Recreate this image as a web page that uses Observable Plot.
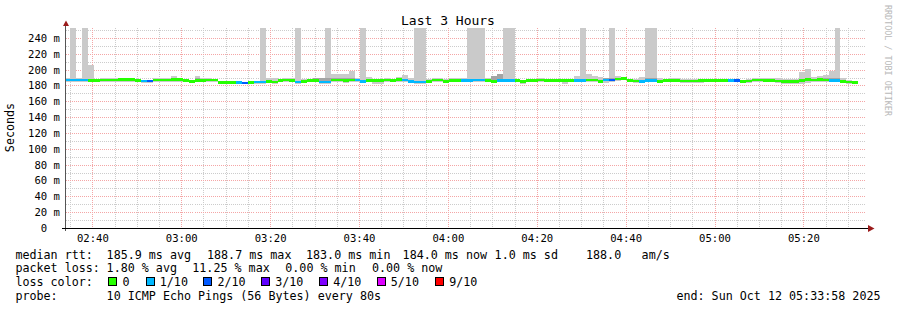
<!DOCTYPE html>
<html>
<head>
<meta charset="utf-8">
<script src="https://cdn.jsdelivr.net/npm/d3@7"></script>
<script src="https://cdn.jsdelivr.net/npm/@observablehq/plot@0.6"></script>
<style>
  html, body { margin: 0; padding: 0; background: #ffffff; }
  #chart { width: 897px; height: 310px; overflow: hidden; }
</style>
</head>
<body>
<div id="chart"></div>
<script>
// ---------------- data ----------------
const day = "2025-10-12";
const endTime = "05:33:58";
const spanHours = 3;
const firstBin = "02:33:40";
const stepSec = 80;

const title = "Last 3 Hours";
const yLabel = "Seconds";
const timeTicks = ["02:40", "03:00", "03:20", "03:40", "04:00", "04:20", "04:40", "05:00", "05:20"];
const yTicks = [0, 20, 40, 60, 80, 100, 120, 140, 160, 180, 200, 220, 240];
const yMax = 252.6;

const lossLevels = [0, 1, 2, 3, 4, 5, 9];
const lossLabels = ["0", "1/10", "2/10", "3/10", "4/10", "5/10", "9/10"];
const lossColors = ["#26ff00", "#00b8ff", "#0059ff", "#5e00ff", "#7e00ff", "#dd00ff", "#ff0000"];

// median rtt per 80 s bin (ms)
const median = [
  186.7,186.7,186.7,186.7,186.1,186.3,186.9,186.9,186.9,187.3,
  187.3,187.3,186.1,185.6,185.6,186.9,186.9,186.9,187.7,187.7,
  186.1,185.2,186.5,186.5,186.9,186.9,184.0,184.0,184.0,184.0,
  183.1,184.0,184.4,184.4,184.8,184.4,186.1,186.9,186.1,184.4,
  184.8,186.1,186.1,184.4,184.4,186.9,186.9,186.5,186.9,186.9,
  185.2,186.5,186.5,186.5,186.9,186.1,187.3,186.9,184.8,184.4,
  184.4,184.8,186.9,186.9,184.8,186.1,186.1,186.1,186.1,186.9,
  186.9,186.1,185.2,186.1,186.1,186.1,186.1,184.8,186.1,186.1,
  186.9,186.5,186.5,186.5,186.5,186.5,186.1,186.1,186.9,186.9,
  185.2,186.9,186.9,188.2,188.6,186.1,185.6,185.2,186.1,186.1,
  185.2,186.1,186.1,186.1,185.6,185.6,185.6,186.1,186.1,186.1,
  186.1,186.1,186.5,186.5,185.2,185.6,186.9,186.9,186.5,186.5,
  185.6,184.8,184.8,184.8,186.1,187.3,186.9,187.3,186.9,186.1,
  186.1,185.2,184.4,184.0
];
// lost pings (of 10) per bin
const loss = [
  1,1,1,1,0,0,0,0,0,0,
  0,0,0,1,2,0,0,0,0,0,
  0,0,0,0,0,0,0,0,0,1,
  2,0,1,1,0,0,0,0,0,1,
  0,0,0,1,1,0,0,0,0,1,
  1,0,0,0,0,0,0,1,1,1,
  1,0,0,0,0,0,0,1,1,1,
  1,0,0,1,1,1,0,0,0,0,
  0,0,0,0,0,0,1,1,0,0,
  0,1,2,0,0,0,0,1,1,1,
  0,0,0,0,0,0,0,0,0,0,
  0,0,1,2,0,0,0,0,0,0,
  0,0,0,0,0,0,0,0,0,1,
  1,0,0,0
];
// highest ping per bin (ms); 320 = off the top of the graph
const smokeMax = [
  189.5,320,189.5,320,206,188,189.5,189.5,189.5,189,
  188.5,188.5,187.5,187.5,187,189,189,189,192,189,
  188,187,192.4,189.5,189.5,188,186,186,186,186,
  185,186,186,320,189.5,189,188.6,189,189,320,
  188,188.5,190,189.5,320,194,194,195,198.7,189,
  320,190.5,188,188,189.5,188,190.7,193,189,320,
  320,188,189.5,189.5,188,189.5,189.5,189,320,320,
  320,189.5,191.5,194.9,320,320,188.5,187,188.5,188.5,
  189.5,188.5,188.5,188.5,188.5,188.5,192.3,320,194.5,191.5,
  191,190,320,192.3,190,188.5,188.5,191,320,320,
  189.5,188.5,189,189,188.5,187.6,187.6,187.6,188.3,188.3,
  188.3,188.3,188.5,188,187.5,188.5,189.4,189.4,189,189,
  189,188.5,188.5,188.5,196.6,201.2,191,191.5,193.6,197.8,
  320,189,187,186
];
// lowest ping per bin (ms)
const smokeMin = [
  184.5,184.5,184.5,184.5,184,184,184.5,184.5,184.5,185,
  185,185,184,183.5,183.5,184.5,184.5,184.5,185,185,
  184,183,184,184,184.5,184.5,182.5,181.8,182.5,182.5,
  181.5,182,182.5,182.5,183,182.5,184,184.5,184,182.5,
  183,184,184,182.5,182.5,184.5,184.5,183,184.5,184.5,
  183,184,182,182,184.5,184,185,184.5,183,182.5,
  182.5,183,184.5,184.5,183,184,184,184,184,184.5,
  184.5,184,183,184,184,184,184,182,184,184,
  184.5,184,184,184,182,184,184,184,184.5,184.5,
  183,183,184.5,186,186.5,184,183.5,183,184,184,
  183,184,184,184,183.5,183.5,183.5,183.5,184,184,
  184,184,184,184,183,183.5,184.5,184.5,184,184,
  183.5,182.5,182.5,182.5,182.3,182.7,184.5,185,184.5,184,
  184,183,181.4,182
];
// bins where the inner (darker) smoke rises visibly above the median
const darkBins = [18, 22, 36, 37, 38, 42, 43, 44, 45, 46, 47, 48, 65, 66, 72, 73, 91, 92, 98, 99, 128, 129, 130];
const darkTop  = [190, 189.5, 188.6, 188.6, 188.6, 190, 189.5, 189.5, 189.5, 189.5, 189.5, 190, 188.5, 188.5, 191.5, 194.9, 190, 190, 190, 190, 190, 190, 190];

const rttLine = ["median rtt:", "185.9 ms avg", "188.7 ms max", "183.0 ms min", "184.0 ms now", "1.0 ms sd", "188.0", "am/s"];
const lossLine = ["packet loss:", "1.80 % avg", "11.25 % max", "0.00 % min", "0.00 % now"];
const colorLineLabel = "loss color:";
const probeLine = ["probe:", "10 ICMP Echo Pings (56 Bytes) every 80s"];
const endLine = "end: Sun Oct 12 05:33:58 2025";
const watermark = "RRDTOOL / TOBI OETIKER";

// ---------------- build ----------------
const MONO = "'DejaVu Sans Mono', monospace";
const tEnd = new Date(`${day}T${endTime}Z`);
const tStart = new Date(+tEnd - spanHours * 3600e3);
const t0 = new Date(`${day}T${firstBin}Z`);

const bins = median.map((m, i) => ({
  x1: new Date(+t0 + i * stepSec * 1000),
  x2: new Date(+t0 + (i + 1) * stepSec * 1000),
  m, loss: loss[i], hi: smokeMax[i], lo: smokeMin[i]
}));
const darks = darkBins.map((b, j) => ({x1: bins[b].x1, x2: bins[b].x2, y1: bins[b].m, y2: darkTop[j]}));

const tickDates = timeTicks.map(s => new Date(`${day}T${s}:00Z`));
const majorT = d3.utcMinute.every(20).range(tStart, tEnd);
const minorT = d3.utcMinute.every(5).range(tStart, tEnd).filter(d => d.getUTCMinutes() % 20 !== 0);
const majorY = yTicks.filter(v => v > 0);
const minorY = d3.range(10, yMax, 20);
const bandHalf = 1.6;

const plot = Plot.plot({
  width: 897,
  height: 310,
  marginLeft: 65.5,
  marginRight: 31.5,
  marginTop: 28,
  marginBottom: 82,
  style: {fontFamily: MONO, fontSize: "10.6px", background: "#ffffff", color: "#000000", overflow: "visible"},
  x: {type: "utc", domain: [tStart, tEnd]},
  y: {domain: [0, yMax]},
  color: {type: "ordinal", domain: lossLevels, range: lossColors},
  marks: [
    Plot.ruleX(minorT, {stroke: "#cccccc", strokeDasharray: "1,1", shapeRendering: "crispEdges"}),
    Plot.ruleY(minorY, {stroke: "#cccccc", strokeDasharray: "1,1", shapeRendering: "crispEdges"}),
    Plot.ruleX(majorT, {stroke: "#f4a6a6", strokeDasharray: "1,1", shapeRendering: "crispEdges"}),
    Plot.ruleY(majorY, {stroke: "#f4a6a6", strokeDasharray: "1,1", shapeRendering: "crispEdges"}),
    Plot.rect(bins, {x1: "x1", x2: "x2", y1: "lo", y2: "hi", fill: "#cacaca", inset: 0, clip: true, shapeRendering: "crispEdges"}),
    Plot.rect(darks, {x1: "x1", x2: "x2", y1: "y1", y2: "y2", fill: "#a4a4a4", inset: 0, clip: true, shapeRendering: "crispEdges"}),
    Plot.rect(bins, {x1: "x1", x2: "x2", y1: d => d.m - bandHalf, y2: d => d.m + bandHalf, fill: "loss", inset: 0, clip: true, shapeRendering: "crispEdges"}),
    Plot.axisX({ticks: tickDates, tickFormat: d => timeTicks[tickDates.findIndex(t => +t === +d)], tickSize: 0, tickPadding: 6, label: null, fontFamily: MONO, fontSize: 10.6, color: "#000000"}),
    Plot.axisY({ticks: yTicks, tickFormat: v => v === 0 ? "0\u00a0\u00a0" : `${v} m`, tickSize: 0, tickPadding: 6, label: null, fontFamily: MONO, fontSize: 10.6, color: "#000000"})
  ]
});

document.getElementById("chart").appendChild(plot);

// ---------------- decorations & legend ----------------
const svg = d3.select(plot);
const [xl, xr] = plot.scale("x").range;
const [yb, yt] = plot.scale("y").range;
const axisY0 = yb + 0.5;

// axes
svg.append("line").attr("x1", xl).attr("x2", xl).attr("y1", yb + 3).attr("y2", yt - 2)
  .attr("stroke", "#555").attr("stroke-width", 1).attr("shape-rendering", "crispEdges");
svg.append("line").attr("x1", xl - 4).attr("x2", xr + 3).attr("y1", axisY0).attr("y2", axisY0)
  .attr("stroke", "#000").attr("stroke-width", 1).attr("shape-rendering", "crispEdges");
// arrows
svg.append("polygon")
  .attr("points", `${xl - 2.5},${yt - 2} ${xl + 0.5},${yt - 7.5} ${xl + 3.5},${yt - 2}`)
  .attr("fill", "#9b1b1b");
svg.append("polygon")
  .attr("points", `${xr + 2.5},${axisY0 - 3.5} ${xr + 9},${axisY0} ${xr + 2.5},${axisY0 + 3.5}`)
  .attr("fill", "#9b1b1b");

function txt(x, y, s, opts = {}) {
  const t = svg.append("text").attr("x", x).attr("y", y)
    .attr("font-family", MONO).attr("font-size", opts.size || 11.7)
    .attr("fill", opts.fill || "#000").attr("xml:space", "preserve")
    .attr("text-anchor", opts.anchor || "start")
    .style("white-space", "pre")
    .text(s);
  if (opts.transform) t.attr("transform", opts.transform);
  return t;
}

// title
txt(448, 24.5, title, {size: 13, anchor: "middle"});
// y label
txt(0, 0, yLabel, {size: 11.7, anchor: "middle", transform: "translate(14.3,127.5) rotate(-90)"});
// watermark
txt(0, 0, watermark, {size: 8.4, fill: "#b8b8b8", transform: "translate(885,5) rotate(90)"});

// legend line 1
const rttX = [15.4, 106.6, 207, 306, 402.6, 494.6, 586, 641.6];
rttLine.forEach((s, i) => txt(rttX[i], 258.5, s));
// legend line 2
const lossX = [15.4, 106.6, 192.3, 285.3, 372];
lossLine.forEach((s, i) => txt(lossX[i], 272.2, s));
// legend line 3
txt(15.4, 286, colorLineLabel);
const boxX = [108.5, 146, 203.5, 261.5, 319.5, 377, 435];
const boxLabelX = [122.6, 159.8, 217.4, 275.2, 333.2, 390.8, 449.2];
lossColors.forEach((c, i) => {
  svg.append("rect").attr("x", boxX[i]).attr("y", 277.5).attr("width", 8).attr("height", 8)
    .attr("fill", c).attr("stroke", "#000").attr("stroke-width", 1).attr("shape-rendering", "crispEdges");
  txt(boxLabelX[i], 286, lossLabels[i]);
});
// legend line 4
txt(15.4, 299.8, probeLine[0]);
txt(106.6, 299.8, probeLine[1]);
txt(880.5, 299.8, endLine, {anchor: "end"});
</script>
</body>
</html>
